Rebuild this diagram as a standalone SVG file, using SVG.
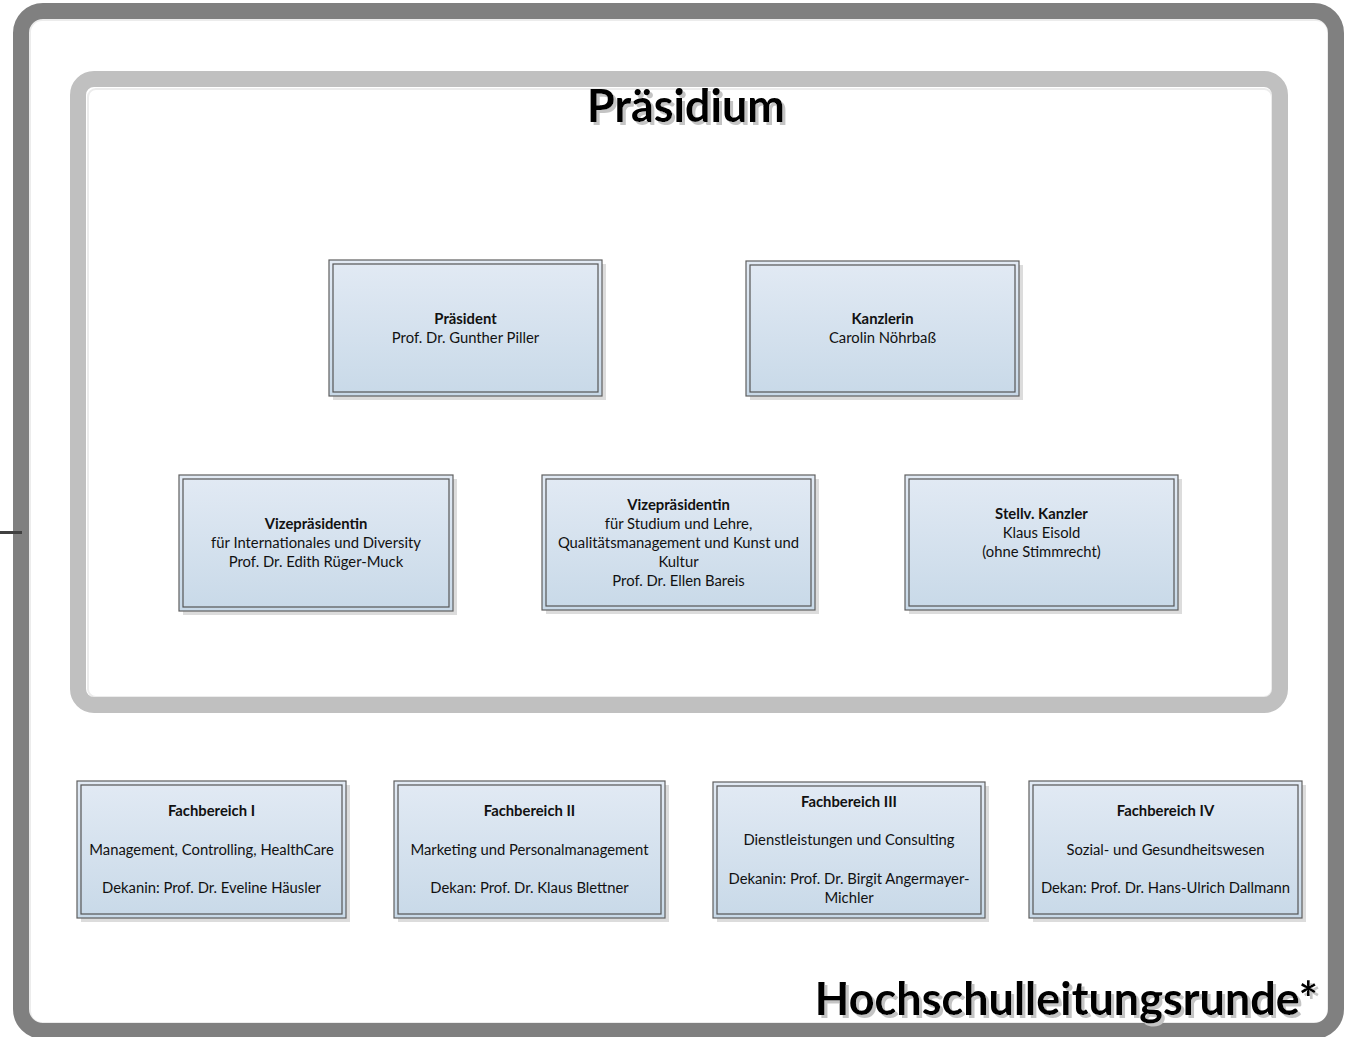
<svg xmlns="http://www.w3.org/2000/svg" width="1352" height="1037" viewBox="0 0 1352 1037">
<defs>
<linearGradient id="nodeFill" x1="0" y1="0" x2="0" y2="1">
<stop offset="0" stop-color="#e2eaf4"/>
<stop offset="1" stop-color="#c8d9e8"/>
</linearGradient>
<filter id="textShadow" x="-5%" y="-20%" width="110%" height="140%">
<feOffset in="SourceAlpha" dx="3" dy="3" result="off"/>
<feFlood flood-color="#c4c4c4"/>
<feComposite in2="off" operator="in" result="sh"/>
<feMerge><feMergeNode in="sh"/><feMergeNode in="SourceGraphic"/></feMerge>
</filter>
</defs>
<style>
.shadow{fill:#dcdcdc}
.outer{fill:url(#nodeFill);stroke:#5f5f5f;stroke-width:1.2}
.inner{fill:none;stroke:#555;stroke-width:1.2}
.t{font-family:Lato,"Open Sans","Liberation Sans",sans-serif;font-size:14.8px;fill:#111;text-anchor:middle}
.b{font-weight:bold}
.title{font-family:Lato,"Open Sans","Liberation Sans",sans-serif;font-weight:bold;fill:#000;filter:url(#textShadow)}
</style>
<rect width="1352" height="1037" fill="#fff"/>
<g id="hochschulleitungsrunde">
<rect x="30" y="20" width="1298" height="1003" rx="12" fill="none" stroke="#ececec" stroke-width="2"/>
<rect x="21" y="11" width="1315" height="1020" rx="22" fill="none" stroke="#808080" stroke-width="16"/>
<text class="title" x="1318" y="1015" font-size="45" text-anchor="end">Hochschulleitungsrunde*</text>
</g>
<g id="praesidium">
<rect x="88" y="89" width="1184" height="608" rx="8" fill="none" stroke="#ececec" stroke-width="2"/>
<rect x="78" y="79" width="1202" height="626" rx="16" fill="none" stroke="#c0c0c0" stroke-width="16"/>
<text class="title" x="686" y="122" font-size="45" text-anchor="middle">Präsidium</text>
</g>
<g id="praesident">
<rect class="shadow" x="333" y="264" width="273" height="136"/>
<rect class="outer" x="329" y="260" width="273" height="136"/>
<rect class="inner" x="333" y="264" width="265" height="128"/>
<text class="t b" x="465.5" y="324">Präsident</text>
<text class="t" x="465.5" y="343">Prof. Dr. Gunther Piller</text>
</g>
<g id="kanzlerin">
<rect class="shadow" x="750" y="265" width="273" height="135"/>
<rect class="outer" x="746" y="261" width="273" height="135"/>
<rect class="inner" x="750" y="265" width="265" height="127"/>
<text class="t b" x="882.5" y="324">Kanzlerin</text>
<text class="t" x="882.5" y="343">Carolin Nöhrbaß</text>
</g>
<g id="vize1">
<rect class="shadow" x="183" y="479" width="274" height="136"/>
<rect class="outer" x="179" y="475" width="274" height="136"/>
<rect class="inner" x="183" y="479" width="266" height="128"/>
<text class="t b" x="316" y="529">Vizepräsidentin</text>
<text class="t" x="316" y="548">für Internationales und Diversity</text>
<text class="t" x="316" y="567">Prof. Dr. Edith Rüger-Muck</text>
</g>
<g id="vize2">
<rect class="shadow" x="546" y="479" width="273" height="135"/>
<rect class="outer" x="542" y="475" width="273" height="135"/>
<rect class="inner" x="546" y="479" width="265" height="127"/>
<text class="t b" x="678.5" y="510">Vizepräsidentin</text>
<text class="t" x="678.5" y="529">für Studium und Lehre,</text>
<text class="t" x="678.5" y="548">Qualitätsmanagement und Kunst und</text>
<text class="t" x="678.5" y="567">Kultur</text>
<text class="t" x="678.5" y="586">Prof. Dr. Ellen Bareis</text>
</g>
<g id="stellv_kanzler">
<rect class="shadow" x="909" y="479" width="273" height="135"/>
<rect class="outer" x="905" y="475" width="273" height="135"/>
<rect class="inner" x="909" y="479" width="265" height="127"/>
<text class="t b" x="1041.5" y="519">Stellv. Kanzler</text>
<text class="t" x="1041.5" y="538">Klaus Eisold</text>
<text class="t" x="1041.5" y="557">(ohne Stimmrecht)</text>
</g>
<g id="fb1">
<rect class="shadow" x="81" y="785" width="269" height="137"/>
<rect class="outer" x="77" y="781" width="269" height="137"/>
<rect class="inner" x="81" y="785" width="261" height="129"/>
<text class="t b" x="211.5" y="816">Fachbereich I</text>
<text class="t" x="211.5" y="855">Management, Controlling, HealthCare</text>
<text class="t" x="211.5" y="893">Dekanin: Prof. Dr. Eveline Häusler</text>
</g>
<g id="fb2">
<rect class="shadow" x="398" y="785" width="271" height="137"/>
<rect class="outer" x="394" y="781" width="271" height="137"/>
<rect class="inner" x="398" y="785" width="263" height="129"/>
<text class="t b" x="529.5" y="816">Fachbereich II</text>
<text class="t" x="529.5" y="855">Marketing und Personalmanagement</text>
<text class="t" x="529.5" y="893">Dekan: Prof. Dr. Klaus Blettner</text>
</g>
<g id="fb3">
<rect class="shadow" x="717" y="786" width="272" height="136"/>
<rect class="outer" x="713" y="782" width="272" height="136"/>
<rect class="inner" x="717" y="786" width="264" height="128"/>
<text class="t b" x="849" y="807">Fachbereich III</text>
<text class="t" x="849" y="845">Dienstleistungen und Consulting</text>
<text class="t" x="849" y="884">Dekanin: Prof. Dr. Birgit Angermayer-</text>
<text class="t" x="849" y="903">Michler</text>
</g>
<g id="fb4">
<rect class="shadow" x="1033" y="785" width="273" height="137"/>
<rect class="outer" x="1029" y="781" width="273" height="137"/>
<rect class="inner" x="1033" y="785" width="265" height="129"/>
<text class="t b" x="1165.5" y="816">Fachbereich IV</text>
<text class="t" x="1165.5" y="855">Sozial- und Gesundheitswesen</text>
<text class="t" x="1165.5" y="893">Dekan: Prof. Dr. Hans-Ulrich Dallmann</text>
</g>
<g id="connectors">
<line x1="0" y1="532.5" x2="22" y2="532.5" stroke="#404040" stroke-width="3"/>
</g>
</svg>
